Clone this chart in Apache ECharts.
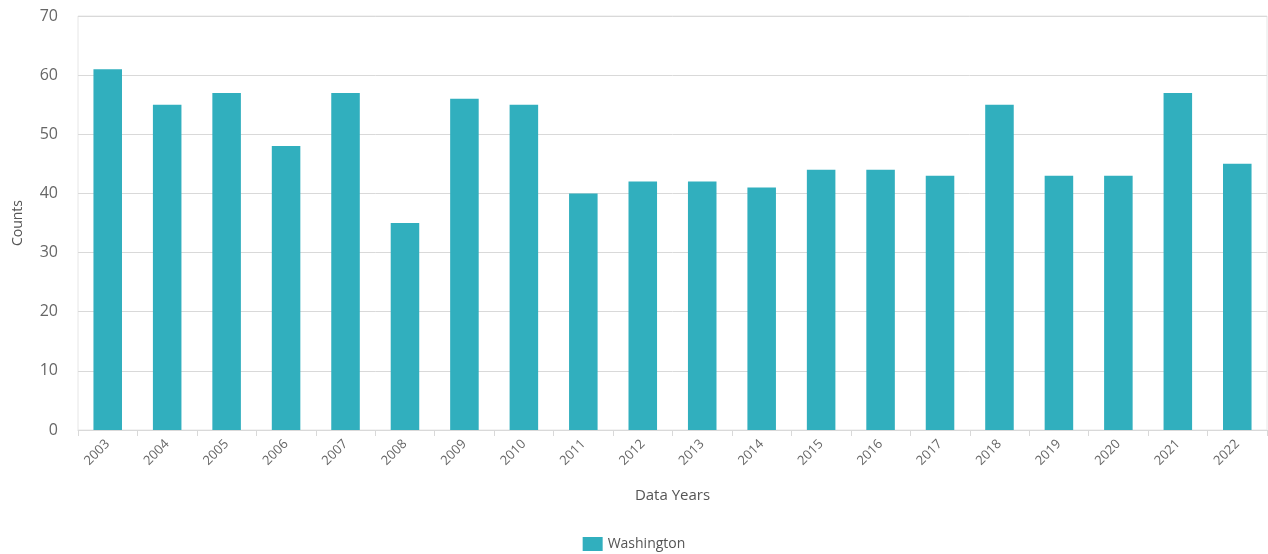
<!DOCTYPE html>
<html><head><meta charset="utf-8">
<script src="https://cdn.jsdelivr.net/npm/echarts@6/dist/echarts.min.js"></script>
<style>html,body{margin:0;padding:0;background:#fff}#c{width:1268px;height:554px}</style>
</head><body><div id="c"></div>
<script>
const years = ['2003','2004','2005','2006','2007','2008','2009','2010','2011','2012','2013','2014','2015','2016','2017','2018','2019','2020','2021','2022'];
const washington = [61,55,57,48,57,35,56,55,40,42,42,41,44,44,43,55,43,43,57,45];
const seriesName = 'Washington';
const font = '"Open Sans", "Noto Sans", sans-serif';
const chart = echarts.init(document.getElementById('c'));
chart.setOption({
  animation: false,
  textStyle: {fontFamily: font},
  grid: {left: 78, right: 1, top: 16, bottom: 124, show: true, borderColor: '#e6e6e6', borderWidth: 1},
  legend: {bottom: -2, left: 'center', itemWidth: 20, itemHeight: 14, icon: 'rect',
    textStyle: {fontFamily: font, fontSize: 14, color: '#555'}, data: [seriesName]},
  xAxis: {type: 'category', data: years, name: 'Data Years', nameLocation: 'middle', nameGap: 58,
    nameTextStyle: {fontFamily: font, fontSize: 15, color: '#555'},
    axisLine: {lineStyle: {color: '#d9d9d9'}},
    axisTick: {show: true, alignWithLabel: false, length: 6, lineStyle: {color: '#d9d9d9'}},
    axisLabel: {rotate: 45, fontSize: 13, color: '#666', margin: 12, fontFamily: font}},
  yAxis: {type: 'value', min: 0, max: 70, interval: 10, name: 'Counts', nameLocation: 'middle', nameGap: 53,
    nameTextStyle: {fontFamily: font, fontSize: 14, color: '#555'},
    axisLine: {show: false}, axisTick: {show: false},
    axisLabel: {fontSize: 16, color: '#666', margin: 20, fontFamily: font},
    splitLine: {lineStyle: {color: '#d9d9d9'}}},
  series: [{name: seriesName, type: 'bar', data: washington, barWidth: '48%', itemStyle: {color: '#31afbe'}}]
});
</script></body></html>
